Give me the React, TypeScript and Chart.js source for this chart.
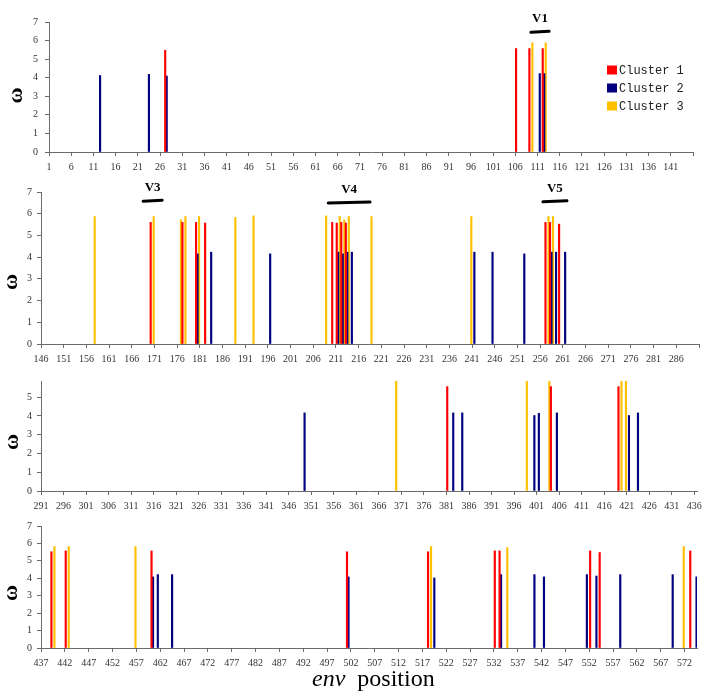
import React, { useEffect, useRef } from 'react';
import { Chart, registerables } from 'chart.js';

Chart.register(...registerables);

// ---------- data ----------
const clusterNames = ['Cluster 1', 'Cluster 2', 'Cluster 3'];
const clusterColors = ['#FF0000', '#000080', '#FFC000'];

// Panel 1 (positions 1-145)
const p1RedPos = [27, 106, 109, 112];
const p1RedVal = [5.48, 5.57, 5.57, 5.57];
const p1BluePos = [12, 23, 27, 111, 112];
const p1BlueVal = [4.12, 4.18, 4.09, 4.22, 4.22];
const p1YellowPos = [109, 112];
const p1YellowVal = [5.88, 5.88];

// Panel 2 (positions 146-290)
const p2RedPos = [170, 177, 180, 182, 210, 211, 212, 213, 257, 258, 260];
const p2RedVal = [5.6, 5.6, 5.6, 5.57, 5.6, 5.57, 5.6, 5.57, 5.6, 5.6, 5.52];
const p2BluePos = [180, 183, 196, 211, 212, 213, 214, 241, 245, 252, 258, 259, 261];
const p2BlueVal = [4.15, 4.23, 4.15, 4.23, 4.15, 4.23, 4.23, 4.23, 4.23, 4.15, 4.23, 4.23, 4.23];
const p2YellowPos = [157, 170, 176, 177, 180, 188, 192, 208, 211, 212, 213, 218, 240, 257, 258];
const p2YellowVal = [5.87, 5.87, 5.72, 5.87, 5.87, 5.83, 5.9, 5.9, 5.87, 5.72, 5.87, 5.87, 5.87, 5.87, 5.87];

// Panel 3 (positions 291-436)
const p3RedPos = [381, 404, 419];
const p3RedVal = [5.56, 5.56, 5.56];
const p3BluePos = [349, 382, 384, 400, 401, 405, 421, 423];
const p3BlueVal = [4.16, 4.16, 4.16, 4.02, 4.14, 4.16, 4.02, 4.16];
const p3YellowPos = [369, 398, 403, 419, 420];
const p3YellowVal = [5.85, 5.85, 5.85, 5.85, 5.85];

// Panel 4 (positions 437-574)
const p4RedPos = [439, 442, 460, 501, 518, 532, 533, 552, 554, 573];
const p4RedVal = [5.52, 5.57, 5.57, 5.52, 5.52, 5.57, 5.57, 5.57, 5.48, 5.57];
const p4BluePos = [460, 461, 464, 501, 519, 533, 540, 542, 551, 553, 558, 569, 574];
const p4BlueVal = [4.08, 4.21, 4.21, 4.08, 4.02, 4.21, 4.21, 4.08, 4.21, 4.13, 4.21, 4.21, 4.08];
const p4YellowPos = [439, 442, 456, 518, 534, 571];
const p4YellowVal = [5.82, 5.82, 5.82, 5.82, 5.76, 5.82];

// tick labels
const p1XTicks = [1, 6, 11, 16, 21, 26, 31, 36, 41, 46, 51, 56, 61, 66, 71, 76, 81, 86, 91, 96, 101, 106, 111, 116, 121, 126, 131, 136, 141, 146];
const p2XTicks = [146, 151, 156, 161, 166, 171, 176, 181, 186, 191, 196, 201, 206, 211, 216, 221, 226, 231, 236, 241, 246, 251, 256, 261, 266, 271, 276, 281, 286, 291];
const p3XTicks = [291, 296, 301, 306, 311, 316, 321, 326, 331, 336, 341, 346, 351, 356, 361, 366, 371, 376, 381, 386, 391, 396, 401, 406, 411, 416, 421, 426, 431, 436];
const p4XTicks = [437, 442, 447, 452, 457, 462, 467, 472, 477, 482, 487, 492, 497, 502, 507, 512, 517, 522, 527, 532, 537, 542, 547, 552, 557, 562, 567, 572];
const yTicksFull = [0, 1, 2, 3, 4, 5, 6, 7];
const yTicksCut = [0, 1, 2, 3, 4, 5];

// variable-region annotations
const regionLabels = ['V1', 'V3', 'V4', 'V5'];
const regionPanel = [0, 1, 1, 1];
const regionStart = [109.5, 168.5, 209.3, 256.6];
const regionEnd = [113.6, 172.7, 218.5, 261.9];
const regionLevel = [6.47, 6.6, 6.52, 6.57];

// ---------- layout ----------
type Panel = {
  pos: number[][];
  val: number[][];
  xTicks: number[];
  hideLast: boolean;
  xMin: number;
  xMax: number;
  yMax: number;
  yTicks: number[];
  top: number;
  height: number;
  padTop: number;
  yW: number;
  yPad: number;
  padRight: number;
  omegaX: number;
  omegaY: number;
  legend: boolean;
};

const panels: Panel[] = [
  {
    pos: [p1RedPos, p1BluePos, p1YellowPos], val: [p1RedVal, p1BlueVal, p1YellowVal],
    xTicks: p1XTicks, hideLast: true, xMin: 1, xMax: 146, yMax: 7, yTicks: yTicksFull,
    top: 0, height: 176, padTop: 22, yW: 49, yPad: 7, padRight: 27, omegaX: 16.5, omegaY: 95.5, legend: true,
  },
  {
    pos: [p2RedPos, p2BluePos, p2YellowPos], val: [p2RedVal, p2BlueVal, p2YellowVal],
    xTicks: p2XTicks, hideLast: true, xMin: 146, xMax: 291, yMax: 7, yTicks: yTicksFull,
    top: 176, height: 192, padTop: 16, yW: 41, yPad: 5, padRight: 21, omegaX: 11.5, omegaY: 106, legend: false,
  },
  {
    pos: [p3RedPos, p3BluePos, p3YellowPos], val: [p3RedVal, p3BlueVal, p3YellowVal],
    xTicks: p3XTicks, hideLast: false, xMin: 291, xMax: 436.6, yMax: 5.86, yTicks: yTicksCut,
    top: 368, height: 147, padTop: 13, yW: 41, yPad: 5, padRight: 23, omegaX: 12.5, omegaY: 74, legend: false,
  },
  {
    pos: [p4RedPos, p4BluePos, p4YellowPos], val: [p4RedVal, p4BlueVal, p4YellowVal],
    xTicks: p4XTicks, hideLast: false, xMin: 437, xMax: 574.6, yMax: 7, yTicks: yTicksFull,
    top: 515, height: 157, padTop: 8, yW: 41, yPad: 5, padRight: 23, omegaX: 12, omegaY: 78, legend: false,
  },
];

const tickFont = { family: '"Liberation Serif", serif', size: 10 };
const axisColor = '#6b6b6b';

function PanelChart({ panel, index }: { panel: Panel; index: number }) {
  const ref = useRef<HTMLCanvasElement | null>(null);
  useEffect(() => {
    if (!ref.current) return;
    const overlay = {
      id: 'overlay' + index,
      afterDraw(chart: any) {
        const ctx = chart.ctx;
        const xs = chart.scales.x;
        const ys = chart.scales.y;
        // y-axis title (omega)
        ctx.save();
        ctx.fillStyle = '#000';
        ctx.font = 'bold 22px "Liberation Serif", serif';
        ctx.translate(panel.omegaX + 5, panel.omegaY);
        ctx.rotate(-Math.PI / 2);
        ctx.textAlign = 'center';
        ctx.textBaseline = 'alphabetic';
        ctx.fillText('ω', 0, 0);
        ctx.restore();
        // region markers
        regionLabels.forEach((lab, i) => {
          if (regionPanel[i] !== index) return;
          const x1 = xs.getPixelForValue(regionStart[i]);
          const x2 = xs.getPixelForValue(regionEnd[i]);
          const y = ys.getPixelForValue(regionLevel[i]);
          ctx.save();
          ctx.strokeStyle = '#000';
          ctx.lineWidth = 3;
          ctx.lineCap = 'round';
          ctx.beginPath();
          ctx.moveTo(x1, y + 0.5);
          ctx.lineTo(x2, y - 0.5);
          ctx.stroke();
          ctx.fillStyle = '#000';
          ctx.font = 'bold 13px "Liberation Serif", serif';
          ctx.textAlign = 'center';
          ctx.textBaseline = 'middle';
          ctx.fillText(lab, (x1 + x2) / 2, y - 13);
          ctx.restore();
        });
        // legend
        if (panel.legend) {
          ctx.save();
          ctx.font = '12px "Liberation Mono", monospace';
          ctx.textBaseline = 'middle';
          ctx.textAlign = 'left';
          clusterNames.forEach((name, i) => {
            const cy = 70 + i * 18;
            ctx.fillStyle = clusterColors[i];
            ctx.fillRect(607, cy - 4.5, 10, 9);
            ctx.fillStyle = '#222';
            ctx.fillText(name, 619, cy + 0.5);
          });
          ctx.restore();
        }
      },
    };

    const chart = new Chart(ref.current, {
      type: 'bar',
      data: {
        datasets: panel.pos.map((ps, ci) => ({
          label: clusterNames[ci],
          data: ps.map((p, j) => ({ x: p + 0.5, y: panel.val[ci][j] })),
          backgroundColor: clusterColors[ci],
          borderWidth: 0,
          barThickness: 1.5,
        })),
      },
      options: {
        responsive: false,
        animation: false,
        events: [],
        layout: { padding: { top: panel.padTop, right: panel.padRight, left: 0, bottom: 0 } },
        plugins: { legend: { display: false }, tooltip: { enabled: false }, title: { display: false } },
        scales: {
          x: {
            type: 'linear',
            min: panel.xMin,
            max: panel.xMax,
            offset: false,
            grid: { display: true, drawOnChartArea: false, drawTicks: true, tickLength: 4, color: axisColor, offset: false },
            border: { display: true, color: axisColor },
            ticks: {
              autoSkip: false,
              maxRotation: 0,
              minRotation: 0,
              padding: 5,
              color: '#333',
              font: tickFont,
              callback: (v: any) => (panel.hideLast && v === panel.xTicks[panel.xTicks.length - 1] ? '' : String(v)),
            },
            afterBuildTicks: (axis: any) => {
              axis.ticks = panel.xTicks.map((v) => ({ value: v }));
            },
            afterFit: (axis: any) => {
              axis.height = 24;
            },
          },
          y: {
            type: 'linear',
            min: 0,
            max: panel.yMax,
            grid: { display: true, drawOnChartArea: false, drawTicks: true, tickLength: 4, color: axisColor },
            border: { display: true, color: axisColor },
            ticks: { padding: panel.yPad, color: '#333', font: tickFont },
            afterBuildTicks: (axis: any) => {
              axis.ticks = panel.yTicks.map((v) => ({ value: v }));
            },
            afterFit: (axis: any) => {
              axis.width = panel.yW;
            },
          },
        },
      } as any,
      plugins: [overlay],
    });
    return () => chart.destroy();
  }, [panel, index]);

  return (
    <canvas
      ref={ref}
      width={720}
      height={panel.height}
      style={{ position: 'absolute', left: 0, top: panel.top, width: 720, height: panel.height }}
    />
  );
}

export default function App() {
  return (
    <div style={{ position: 'absolute', left: 0, top: 0, width: 720, height: 697, background: '#fff', overflow: 'hidden' }}>
      {panels.map((p, i) => (
        <PanelChart key={i} panel={p} index={i} />
      ))}
      <div
        style={{
          position: 'absolute',
          left: 312,
          top: 666,
          fontFamily: '"Liberation Serif", serif',
          fontSize: 24,
          lineHeight: '24px',
          color: '#000',
          whiteSpace: 'nowrap',
        }}
      >
        <span style={{ fontStyle: 'italic' }}>env</span>
        <span style={{ marginLeft: 12 }}>position</span>
      </div>
    </div>
  );
}
